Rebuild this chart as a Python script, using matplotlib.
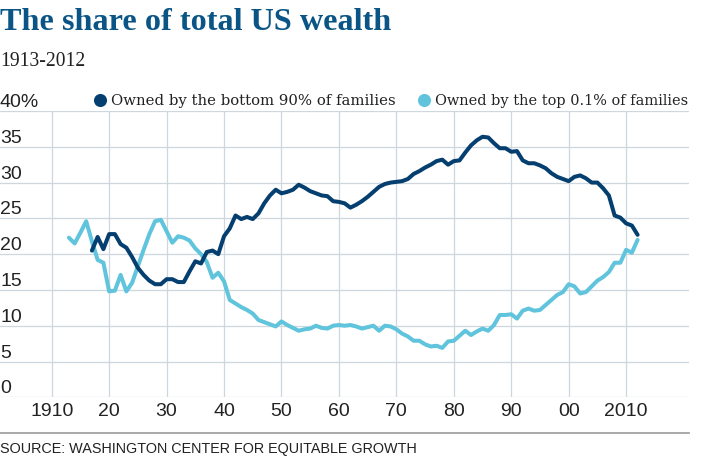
import matplotlib
matplotlib.use("Agg")
import matplotlib.pyplot as plt
import matplotlib.transforms as mtransforms
from matplotlib.lines import Line2D

# ---------------- data ----------------
title = "The share of total US wealth"
subtitle = "1913-2012"
source = "SOURCE: WASHINGTON CENTER FOR EQUITABLE GROWTH"
series_names = ["Owned by the bottom 90% of families", "Owned by the top 0.1% of families"]

years_bottom90 = list(range(1917, 2013))
bottom90 = [
    20.5, 22.4, 20.7, 22.8, 22.8, 21.4, 20.9, 19.6, 18.1, 17.1,   # 1917-1926
    16.3, 15.8, 15.8, 16.5, 16.5, 16.1, 16.1, 17.6, 19.0, 18.7,   # 1927-1936
    20.3, 20.5, 20.0, 22.5, 23.6, 25.4, 24.9, 25.2, 24.9, 25.7,   # 1937-1946
    27.1, 28.2, 29.0, 28.5, 28.7, 29.0, 29.7, 29.3, 28.8, 28.5,   # 1947-1956
    28.2, 28.1, 27.4, 27.3, 27.1, 26.5, 26.9, 27.4, 28.0, 28.7,   # 1957-1966
    29.4, 29.8, 30.0, 30.1, 30.2, 30.5, 31.2, 31.6, 32.1, 32.5,   # 1967-1976
    33.0, 33.2, 32.5, 33.0, 33.1, 34.2, 35.2, 35.9, 36.4, 36.3,   # 1977-1986
    35.5, 34.8, 34.8, 34.3, 34.4, 33.1, 32.7, 32.7, 32.4, 32.0,   # 1987-1996
    31.3, 30.8, 30.5, 30.2, 30.8, 31.0, 30.6, 30.0, 30.0, 29.2,   # 1997-2006
    28.2, 25.4, 25.1, 24.3, 24.0, 22.7,                           # 2007-2012
]

years_top01 = list(range(1913, 2013))
top01 = [
    22.3, 21.5, 23.0, 24.6, 21.8, 19.2, 18.8, 14.8, 14.9, 17.1,   # 1913-1922
    14.8, 16.0, 18.3, 20.6, 22.8, 24.6, 24.8, 23.2, 21.6, 22.5,   # 1923-1932
    22.3, 21.9, 20.8, 20.0, 18.9, 16.7, 17.4, 16.2, 13.6, 13.1,   # 1933-1942
    12.6, 12.2, 11.7, 10.8, 10.5, 10.2, 9.9, 10.6, 10.1, 9.7,     # 1943-1952
    9.3, 9.5, 9.6, 10.0, 9.7, 9.6, 10.0, 10.1, 10.0, 10.1,        # 1953-1962
    9.9, 9.6, 9.8, 10.0, 9.3, 10.0, 9.9, 9.5, 8.9, 8.5,           # 1963-1972
    7.9, 7.9, 7.4, 7.1, 7.2, 6.9, 7.8, 7.9, 8.6, 9.3,             # 1973-1982
    8.7, 9.2, 9.6, 9.3, 10.1, 11.5, 11.5, 11.6, 11.0, 12.1,       # 1983-1992
    12.4, 12.1, 12.2, 12.9, 13.6, 14.3, 14.7, 15.8, 15.5, 14.5,   # 1993-2002
    14.7, 15.5, 16.3, 16.8, 17.5, 18.8, 18.8, 20.6, 20.2, 22.0,   # 2003-2012
]

x_ticks = [1910, 1920, 1930, 1940, 1950, 1960, 1970, 1980, 1990, 2000, 2010]
x_tick_labels = ["1910", "20", "30", "40", "50", "60", "70", "80", "90", "00", "2010"]
y_ticks = [0, 5, 10, 15, 20, 25, 30, 35, 40]
y_tick_labels = ["0", "5", "10", "15", "20", "25", "30", "35", "40%"]

# ---------------- style ----------------
DARK = "#053f6f"
LIGHT = "#5fc4dc"
TITLE_C = "#0a5586"
GRID_C = "#cfd7de"
TEXT_C = "#222222"
SANS = ["Liberation Sans", "DejaVu Sans"]
NARROW = ["Liberation Sans Narrow", "Liberation Sans", "DejaVu Sans"]
SERIF = ["Liberation Serif", "DejaVu Serif"]
SERIF2 = ["DejaVu Serif"]

W, H = 724, 463
fig = plt.figure(figsize=(W / 100, H / 100), dpi=100)
fig.patch.set_facecolor("white")

ax_left, ax_right, ax_top, ax_bottom = 0, 689.3, 111.0, 397.3
ax = fig.add_axes([ax_left / W, 1 - ax_bottom / H, (ax_right - ax_left) / W, (ax_bottom - ax_top) / H])
ax.set_xlim(1901, 2021)
ax.set_ylim(0, 40)
for s in ax.spines.values():
    s.set_visible(False)
ax.set_xticks(x_ticks)
ax.set_xticklabels(x_tick_labels, fontsize=14, family=SANS, color=TEXT_C)
ax.set_yticks(y_ticks)
ax.set_yticklabels([])
ax.tick_params(length=0, pad=4)
ax.grid(True, color=GRID_C, lw=0.9)
ax.set_axisbelow(True)
ax.set_facecolor("none")

# y labels sitting on the gridlines
trans = mtransforms.blended_transform_factory(ax.transAxes, ax.transData)
trans = mtransforms.offset_copy(trans, fig=fig, x=0, y=4, units="dots")
for v, lab in zip(y_ticks, y_tick_labels):
    ax.text(0.0, v, lab, transform=trans, ha="left", va="baseline",
            fontsize=14, family=SANS, color=TEXT_C)

ax.plot(years_top01, top01, color=LIGHT, lw=2.9, solid_joinstyle="round", solid_capstyle="round", zorder=3)
ax.plot(years_bottom90, bottom90, color=DARK, lw=2.9, solid_joinstyle="round", solid_capstyle="round", zorder=4)

renderer = fig.canvas.get_renderer()


def fit(t, target):
    w = t.get_window_extent(renderer=renderer).width
    t.set_fontsize(t.get_fontsize() * target / w)


def fx(px):
    return px / W


def fy(px):
    return 1 - px / H


t = fig.text(fx(0), fy(30), title, fontsize=20, fontweight="bold", family=SERIF,
             color=TITLE_C, ha="left", va="baseline")
fit(t, 390)
t = fig.text(fx(0), fy(66.5), subtitle, fontsize=14, family=SERIF, color=TEXT_C,
             ha="left", va="baseline")
fit(t, 86)

# legend
for (dot_x, txt_x, txt_w), name, col in zip([(100, 111, 283), (424, 435, 252)], series_names, [DARK, LIGHT]):
    fig.add_artist(Line2D([fx(dot_x)], [fy(100)], marker="o", markersize=8.4, color=col,
                          linestyle="none", transform=fig.transFigure))
    t = fig.text(fx(txt_x), fy(105.5), name, fontsize=12, family=SERIF2, color=TEXT_C,
                 ha="left", va="baseline")
    fit(t, txt_w)

# separator and source
fig.add_artist(Line2D([fx(0), fx(689)], [fy(432.7), fy(432.7)], color="#9a9a9a", lw=1.2,
                      transform=fig.transFigure))
t = fig.text(fx(0), fy(453.3), source, fontsize=12, family=NARROW, color=TEXT_C,
             ha="left", va="baseline")
fit(t, 418)

fig.savefig("out.png", dpi=100, facecolor="white")
